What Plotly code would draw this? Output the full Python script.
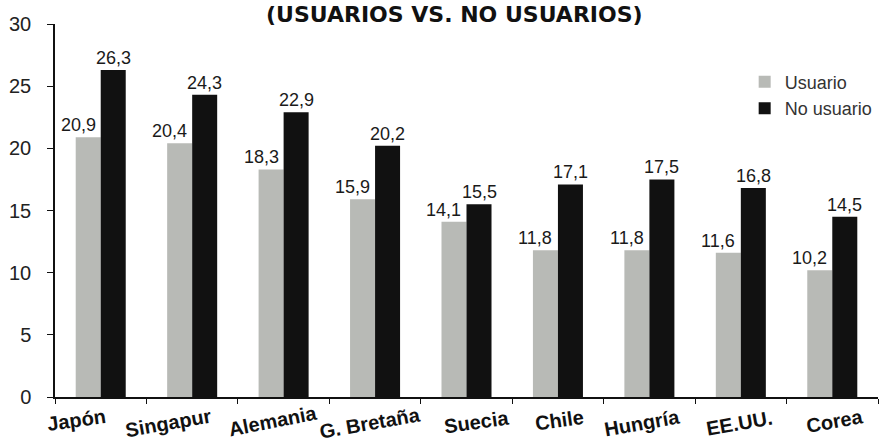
import plotly.graph_objects as go

categories = ["Japón", "Singapur", "Alemania", "G. Bretaña", "Suecia", "Chile", "Hungría", "EE.UU.", "Corea"]
usuario = [20.9, 20.4, 18.3, 15.9, 14.1, 11.8, 11.8, 11.6, 10.2]
no_usuario = [26.3, 24.3, 22.9, 20.2, 15.5, 17.1, 17.5, 16.8, 14.5]
y_ticks = [0, 5, 10, 15, 20, 25, 30]
title_text = "(USUARIOS VS. NO USUARIOS)"

# style: per-label offsets (px) and angles for the wavy category labels
label_dx = [-24, -24, -11, -5, 10, 2, -7, -1, 3]
label_dy = [-23, -26, -24, -26, -25, -23, -26, -26, -24]
label_angle = [-8, -10, -11, -10, -8, -8, -10, -10, -10]

LIGHT = "#b8bab6"
DARK = "#111111"
VAL_FONT = dict(family="Liberation Sans, Arial", size=18, color="#1a1a1a")

fig = go.Figure()
fig.add_trace(go.Bar(x=categories, y=usuario, name="Usuario",
                     marker=dict(color=LIGHT, line=dict(width=0)), offsetgroup="u"))
fig.add_trace(go.Bar(x=categories, y=no_usuario, name="No usuario",
                     marker=dict(color=DARK, line=dict(width=0)), offsetgroup="n"))

# value labels (category units: bar width = (1 - bargap)/2 of a category)
BARGAP = 0.453
half = (1 - BARGAP) / 4
for i, c in enumerate(categories):
    fig.add_annotation(x=i - half, y=usuario[i], xref="x", yref="y",
                       text=f"{usuario[i]:.1f}".replace(".", ","), showarrow=False,
                       xanchor="center", yanchor="bottom", xshift=-10, yshift=0, font=VAL_FONT)
    fig.add_annotation(x=i + half, y=no_usuario[i], xref="x", yref="y",
                       text=f"{no_usuario[i]:.1f}".replace(".", ","), showarrow=False,
                       xanchor="center", yanchor="bottom", xshift=0, yshift=0, font=VAL_FONT)

for i, c in enumerate(categories):
    fig.add_annotation(
        x=i, xref="x", y=0, yref="paper", text="<b>%s</b>" % c, showarrow=False,
        xanchor="center", yanchor="middle", xshift=label_dx[i], yshift=label_dy[i],
        textangle=label_angle[i],
        font=dict(family="Liberation Sans, Arial", size=20, color="#111"),
    )

fig.add_annotation(
    x=0, xref="paper", y=1, yref="paper", text="<b>%s</b>" % title_text,
    showarrow=False, xanchor="center", yanchor="top", xshift=454 - 55, yshift=24,
    font=dict(family="DejaVu Sans", size=22, color="#111"),
)

fig.update_layout(
    width=885, height=442,
    margin=dict(l=55, r=7, t=24, b=45),
    paper_bgcolor="white", plot_bgcolor="white",
    barmode="group", bargap=BARGAP, bargroupgap=0,
    showlegend=True,
    legend=dict(x=0.838, y=0.894, xanchor="left", yanchor="top",
                font=dict(family="Liberation Sans, Arial", size=18, color="#333"),
                bgcolor="rgba(0,0,0,0)", itemwidth=30),
    xaxis=dict(type="category", range=[-0.5, len(categories) - 0.5],
               showticklabels=False, ticks="outside", tickson="boundaries", ticklen=5,
               tickcolor="#111", showline=True, linecolor="#111", linewidth=1.5,
               showgrid=False, zeroline=False),
    yaxis=dict(range=[0, 30], tickvals=y_ticks, ticks="outside", ticklen=6,
               ticklabelstandoff=12,
               tickcolor="#111", showline=True, linecolor="#111", linewidth=1.5,
               showgrid=False, zeroline=False,
               tickfont=dict(family="Liberation Sans, Arial", size=20, color="#222")),
)

fig.write_html("out.html", post_script="document.body.style.margin='0';",
               config={"displayModeBar": False})
